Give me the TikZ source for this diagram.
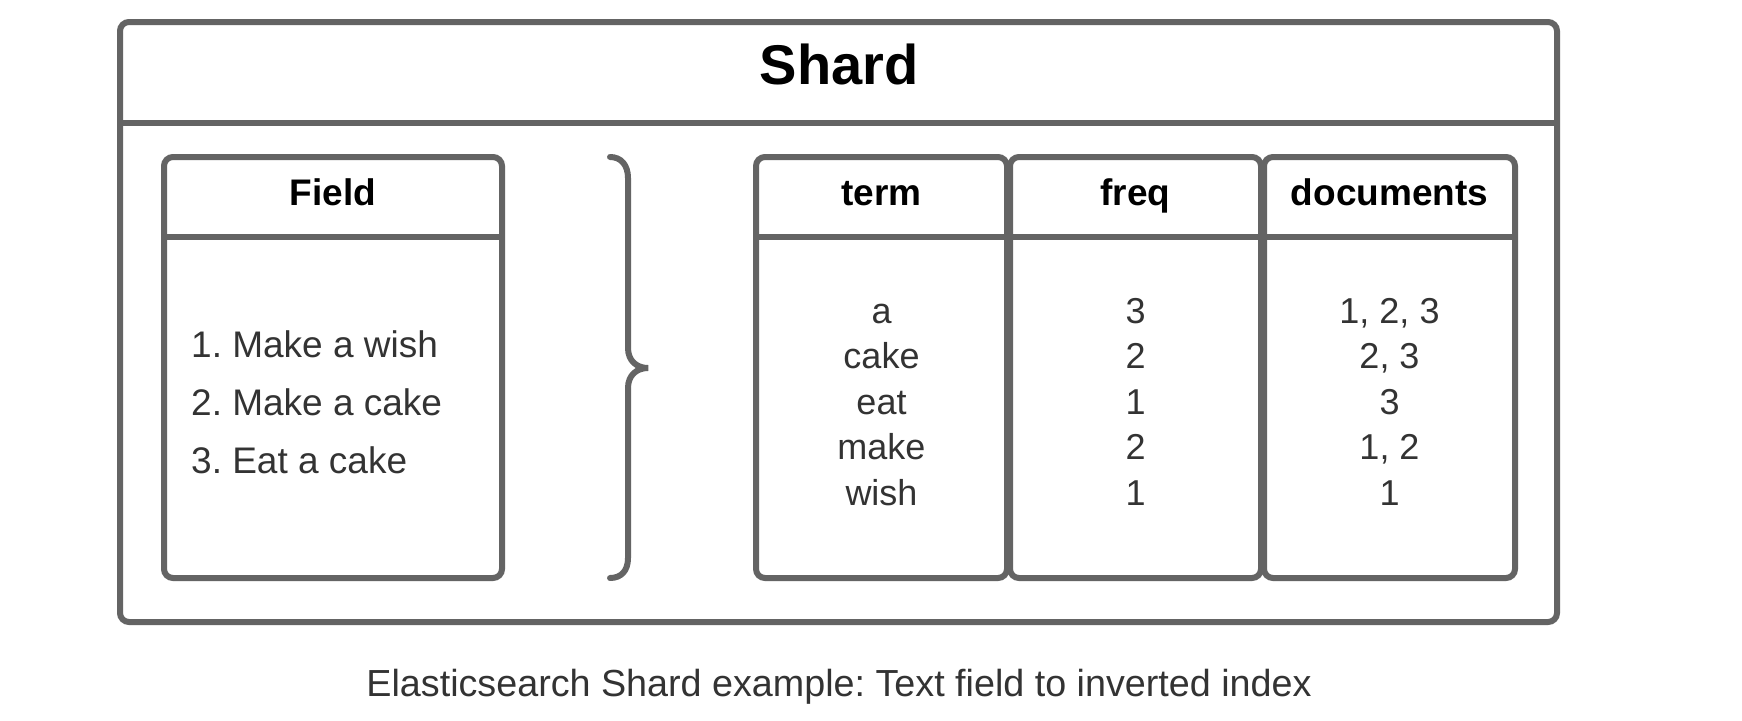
\documentclass[tikz,border=0pt]{standalone}
\usepackage{fontspec}
\setmainfont{Liberation Sans}
\definecolor{edge}{HTML}{646464}
\definecolor{ink}{HTML}{333333}
\begin{document}
\frenchspacing
\begin{tikzpicture}[x=1pt,y=-1pt,
  box/.style={draw=edge, line width=6pt, rounded corners=9pt},
  rule/.style={draw=edge, line width=6pt},
  title/.style={inner sep=0pt, anchor=base, font=\bfseries\fontsize{56}{60}\selectfont, text=black},
  head/.style={inner sep=0pt, anchor=base, font=\bfseries\fontsize{37}{44}\selectfont, text=black},
  body/.style={inner sep=0pt, anchor=base, font=\fontsize{36}{45}\selectfont, text=ink},
  listitem/.style={inner sep=0pt, anchor=base west, font=\fontsize{37}{45}\selectfont, text=ink},
  caption/.style={inner sep=0pt, anchor=base, font=\fontsize{37.7}{44}\selectfont, text=ink}]
\useasboundingbox (0,0) rectangle (1742,720);
\fill[white] (0,0) rectangle (1742,720);

% Shard container
\draw[box] (120,22) rectangle (1557,622);
\draw[rule] (120,123) -- (1557,123);
\node[title] (shard) at (839,84) {Shard};

% Field box
\draw[box] (164,157) rectangle (502,578);
\draw[rule] (164,237) -- (502,237);
\node[head] (field) at (333,205) {Field};
\node[listitem] (l1) at (191,357) {1. Make a wish};
\node[listitem] (l2) at (191,415) {2. Make a cake};
\node[listitem] (l3) at (191,473) {3. Eat a cake};

% Brace
\draw[edge, line width=6pt, line cap=round]
  (610,157) .. controls (621,157) and (628,165) .. (628,178)
  -- (628,348) .. controls (628,361) and (637,368) .. (648,368)
  .. controls (637,368) and (628,375) .. (628,388)
  -- (628,558) .. controls (628,571) and (621,578) .. (610,578);

% Inverted index table
\draw[box] (756,157) rectangle (1007,578);
\draw[box] (1010,157) rectangle (1261,578);
\draw[box] (1264,157) rectangle (1515,578);
\draw[rule] (756,237) -- (1515,237);
\node[head] (hterm) at (881.5,205) {term};
\node[head] (hfreq) at (1135.5,205) {freq};
\node[head] (hdocs) at (1389.5,205) {documents};

\foreach \t/\f/\d [count=\i from 0] in {a/3/{1, 2, 3}, cake/2/{2, 3}, eat/1/3, make/2/{1, 2}, wish/1/1} {
  \node[body] (term\i) at (881.5,323+45.5*\i) {\t};
  \node[body] (freq\i) at (1135.5,323+45.5*\i) {\f};
  \node[body] (docs\i) at (1389.5,323+45.5*\i) {\d};
}

\node[caption] (cap) at (839,696) {Elasticsearch Shard example: Text field to inverted index};
\end{tikzpicture}
\end{document}
